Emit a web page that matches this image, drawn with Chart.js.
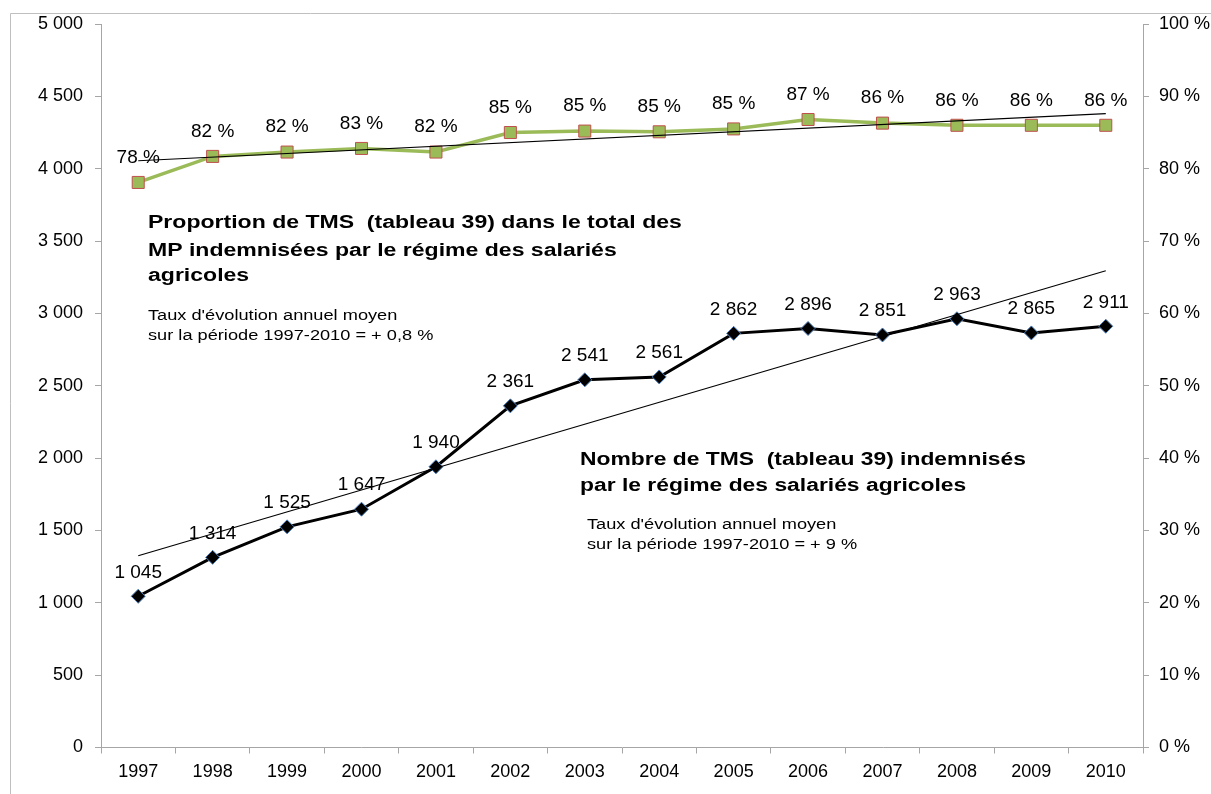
<!DOCTYPE html>
<html>
<head>
<meta charset="utf-8">
<script src="https://cdn.jsdelivr.net/npm/chart.js@4.4.1/dist/chart.umd.min.js"></script>
<style>
  html, body { margin: 0; padding: 0; background: #fff; }
  #wrap { position: relative; width: 1211px; height: 794px; }
</style>
</head>
<body>
<div id="wrap"><canvas id="chart" width="1211" height="794"></canvas></div>
<script>
const years = ['1997', '1998', '1999', '2000', '2001', '2002', '2003', '2004', '2005', '2006', '2007', '2008', '2009', '2010']
const tmsCount = [1045, 1314, 1525, 1647, 1940, 2361, 2541, 2561, 2862, 2896, 2851, 2963, 2865, 2911]
const tmsShare = [78.1, 81.7, 82.3, 82.8, 82.3, 85.0, 85.2, 85.1, 85.5, 86.8, 86.3, 86.0, 86.0, 86.0]
const tmsShareLabels = ['78 %', '82 %', '82 %', '83 %', '82 %', '85 %', '85 %', '85 %', '85 %', '87 %', '86 %', '86 %', '86 %', '86 %']
// trend line ends
const countTrend = [1325, null, null, null, null, null, null, null, null, null, null, null, null, 3295]
const shareTrend = [81.1, null, null, null, null, null, null, null, null, null, null, null, null, 87.6]

const FONT = "'Liberation Sans', Arial, sans-serif"
const axisGray = '#a6a6a6'

const fmtThousands = (n) => String(n).replace(/\B(?=(\d{3})+(?!\d))/g, ' ')

// black "1 045" style labels above the points
const valueLabels = {
  id: 'valueLabels',
  afterDatasetsDraw(chart) {
    const ctx = chart.ctx
    ctx.save()
    ctx.font = '19px ' + FONT
    ctx.fillStyle = '#000'
    ctx.textAlign = 'center'
    ctx.textBaseline = 'middle'
    chart.getDatasetMeta(0).data.forEach((pt, i) => {
      ctx.fillText(tmsShareLabels[i], pt.x, pt.y - 25)
    })
    chart.getDatasetMeta(1).data.forEach((pt, i) => {
      ctx.fillText(fmtThousands(tmsCount[i]), pt.x, pt.y - 24)
    })
    ctx.restore()
  }
}

// the reference text is drawn wide, so stretch it horizontally
function wideText(ctx, text, x, y, sx) {
  ctx.save()
  ctx.translate(x, y)
  ctx.scale(sx, 1)
  ctx.fillText(text, 0, 0)
  ctx.restore()
}

// outer frame and the free text blocks
const notes = {
  id: 'notes',
  afterDraw(chart) {
    const ctx = chart.ctx
    ctx.save()
    ctx.strokeStyle = '#bfbfbf'
    ctx.lineWidth = 1
    ctx.beginPath()
    ctx.moveTo(10.5, 794)
    ctx.lineTo(10.5, 13.5)
    ctx.lineTo(1211, 13.5)
    ctx.stroke()

    ctx.fillStyle = '#000'
    ctx.textAlign = 'left'
    ctx.textBaseline = 'middle'
    ctx.font = 'bold 18px ' + FONT
    wideText(ctx, 'Proportion de TMS  (tableau 39) dans le total des', 148, 223, 1.28)
    wideText(ctx, 'MP indemnisées par le régime des salariés', 148, 251, 1.28)
    wideText(ctx, 'agricoles', 148, 276, 1.28)
    wideText(ctx, 'Nombre de TMS  (tableau 39) indemnisés', 580, 460, 1.27)
    wideText(ctx, 'par le régime des salariés agricoles', 580, 486, 1.27)
    ctx.font = '14px ' + FONT
    wideText(ctx, "Taux d'évolution annuel moyen", 148, 316, 1.3)
    wideText(ctx, 'sur la période 1997-2010 = + 0,8 %', 148, 336, 1.3)
    wideText(ctx, "Taux d'évolution annuel moyen", 587, 525, 1.3)
    wideText(ctx, 'sur la période 1997-2010 = + 9 %', 587, 545, 1.3)
    ctx.restore()
  }
}

new Chart(document.getElementById('chart'), {
  type: 'line',
  data: {
    labels: years,
    datasets: [
      {
        label: 'Proportion de TMS',
        data: tmsShare,
        yAxisID: 'y1',
        borderColor: '#9bbb59',
        borderWidth: 3.5,
        pointStyle: 'rect',
        pointRadius: 8.5,
        pointBackgroundColor: '#9bbb59',
        pointBorderColor: '#c0504d',
        pointBorderWidth: 1,
        tension: 0,
        order: 2,
      },
      {
        label: 'Nombre de TMS',
        data: tmsCount,
        yAxisID: 'y',
        borderColor: '#000',
        borderWidth: 3,
        pointStyle: 'rectRot',
        pointRadius: 7,
        pointBackgroundColor: '#000',
        pointBorderColor: '#4f81bd',
        pointBorderWidth: 1,
        tension: 0,
        order: 3,
      },
      {
        label: 'Tendance proportion',
        data: shareTrend,
        yAxisID: 'y1',
        borderColor: '#000',
        borderWidth: 1.2,
        pointRadius: 0,
        spanGaps: true,
        order: 1,
      },
      {
        label: 'Tendance nombre',
        data: countTrend,
        yAxisID: 'y',
        borderColor: '#000',
        borderWidth: 1.2,
        pointRadius: 0,
        spanGaps: true,
        order: 1,
      },
    ],
  },
  options: {
    responsive: false,
    animation: false,
    layout: { padding: { top: 24, left: 0, right: 0, bottom: 0 } },
    plugins: {
      legend: { display: false },
      tooltip: { enabled: false },
    },
    scales: {
      x: {
        offset: true,
        grid: { display: true, offset: true, drawOnChartArea: false, tickLength: 6, color: axisGray },
        border: { color: axisGray },
        ticks: { color: '#000', font: { family: FONT, size: 18 }, padding: 8, maxRotation: 0 },
        afterFit: (scale) => { scale.height = 46.5 },
      },
      y: {
        position: 'left',
        min: 0,
        max: 5000,
        ticks: { stepSize: 500, color: '#000', font: { family: FONT, size: 18 }, padding: 12, callback: (v) => fmtThousands(v) },
        grid: { drawOnChartArea: false, tickLength: 6, color: axisGray },
        border: { color: axisGray },
        afterFit: (scale) => { scale.width = 101 },
      },
      y1: {
        position: 'right',
        min: 0,
        max: 100,
        ticks: { stepSize: 10, color: '#000', font: { family: FONT, size: 18 }, padding: 10, callback: (v) => v + ' %' },
        grid: { drawOnChartArea: false, tickLength: 6, color: axisGray },
        border: { color: axisGray },
        afterFit: (scale) => { scale.width = 68 },
      },
    },
  },
  plugins: [valueLabels, notes],
})
</script>
</body>
</html>
